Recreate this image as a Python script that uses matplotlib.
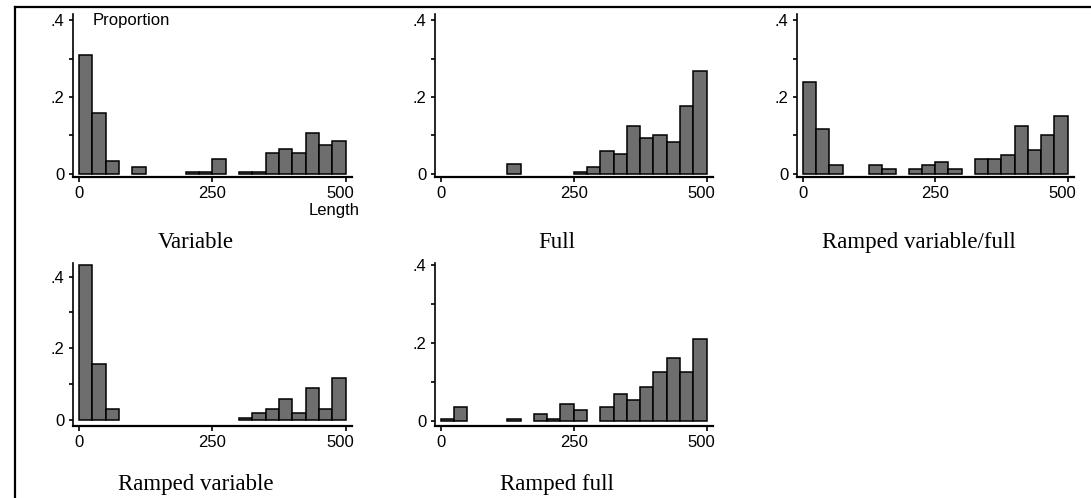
import matplotlib
matplotlib.use("Agg")
import matplotlib.pyplot as plt
from matplotlib.lines import Line2D
import matplotlib.transforms as mtransforms
import numpy as np

# Bin left edges (width 25) and proportions per panel
bin_edges = list(range(0, 500, 25))
bin_width = 25

titles = ["Variable", "Full", "Ramped variable/full", "Ramped variable", "Ramped full"]

variable = [0.309, 0.158, 0.034, 0.0, 0.019, 0.0, 0.0, 0.0, 0.004, 0.004,
            0.039, 0.0, 0.004, 0.004, 0.055, 0.064, 0.055, 0.106, 0.076, 0.085]
full = [0.0, 0.0, 0.0, 0.0, 0.0, 0.026, 0.0, 0.0, 0.0, 0.0,
        0.004, 0.017, 0.059, 0.051, 0.125, 0.093, 0.100, 0.084, 0.176, 0.268]
ramped_var_full = [0.238, 0.117, 0.023, 0.0, 0.0, 0.023, 0.014, 0.0, 0.014, 0.022,
                   0.030, 0.014, 0.0, 0.038, 0.038, 0.048, 0.125, 0.063, 0.101, 0.151]
ramped_variable = [0.432, 0.156, 0.030, 0.0, 0.0, 0.0, 0.0, 0.0, 0.0, 0.0,
                   0.0, 0.0, 0.004, 0.018, 0.031, 0.058, 0.018, 0.090, 0.030, 0.116]
ramped_full = [0.004, 0.035, 0.0, 0.0, 0.0, 0.004, 0.0, 0.018, 0.004, 0.043,
               0.027, 0.0, 0.035, 0.068, 0.052, 0.086, 0.126, 0.160, 0.126, 0.209]

series = [variable, full, ramped_var_full, ramped_variable, ramped_full]

x_ticks = [0, 250, 500]
y_major = [0, 0.2, 0.4]
y_major_labels = ["0", ".2", ".4"]
y_minor = [0.1, 0.3]

W, H = 1091, 498
fig = plt.figure(figsize=(W / 100, H / 100), dpi=100)
fig.patch.set_facecolor("white")

# layout in pixels
col_px = [(73, 352), (435, 713), (797, 1074)]
row_px = [(14, 177), (263, 426)]
positions = [(0, 0), (0, 1), (0, 2), (1, 0), (1, 1)]
ylims = [(-0.008, 0.416), (-0.008, 0.416), (-0.008, 0.416), (-0.017, 0.438), (-0.014, 0.406)]
title_base_px = [248, 248, 248, 490, 490]

for i, (vals, title) in enumerate(zip(series, titles)):
    r, c = positions[i]
    l, rgt = col_px[c]
    t, b = row_px[r]
    ax = fig.add_axes([l / W, 1 - b / H, (rgt - l) / W, (b - t) / H])
    # empty bins are not drawn
    xs = [e for e, v in zip(bin_edges, vals) if v > 0]
    hs = [v for v in vals if v > 0]
    ax.bar(xs, hs, width=bin_width, align="edge",
           color="#6e6e6e", edgecolor="black", linewidth=1.1, zorder=3)
    ax.set_xlim(-11, 512)
    ax.set_ylim(*ylims[i])
    for s in ["top", "right"]:
        ax.spines[s].set_visible(False)
    ax.spines["left"].set_linewidth(1.2)
    ax.spines["bottom"].set_linewidth(1.6)
    ax.set_xticks(x_ticks)
    ax.set_xticklabels([str(v) for v in x_ticks])
    ax.set_yticks(y_major)
    ax.set_yticklabels(y_major_labels)
    ax.set_yticks(y_minor, minor=True)
    ax.tick_params(axis="y", which="both", direction="out", length=3.0, width=1.2,
                   pad=3, labelsize=12)
    ax.tick_params(axis="x", which="both", direction="out", length=3.5, width=1.2,
                   pad=3, labelsize=12)
    for lab in ax.get_xticklabels() + ax.get_yticklabels():
        lab.set_fontfamily("Liberation Sans")
    # last x label sits a little inside the axis end
    last = ax.get_xticklabels()[-1]
    last.set_transform(last.get_transform() +
                       mtransforms.ScaledTranslation(-5 / 100, 0, fig.dpi_scale_trans))
    ax.set_facecolor("none")
    fig.text(((l + rgt) / 2 - 17) / W, 1 - title_base_px[i] / H, title,
             ha="center", va="baseline", fontsize=16.5, family="Liberation Serif")
    if i == 0:
        ax.text(0.072, 0.935, "Proportion", transform=ax.transAxes, ha="left",
                va="baseline", fontsize=12, family="Liberation Sans")
        ax.text(1.029, -0.233, "Length", transform=ax.transAxes, ha="right",
                va="baseline", fontsize=12, family="Liberation Sans")

# outer frame lines (clipped at right and bottom)
fig.add_artist(Line2D([15 / W, 15 / W], [0, 1 - 7 / H], transform=fig.transFigure,
                      color="black", linewidth=1.6))
fig.add_artist(Line2D([15 / W, 1], [1 - 7 / H, 1 - 7 / H], transform=fig.transFigure,
                      color="black", linewidth=1.6))

fig.savefig("out.png", dpi=100)
